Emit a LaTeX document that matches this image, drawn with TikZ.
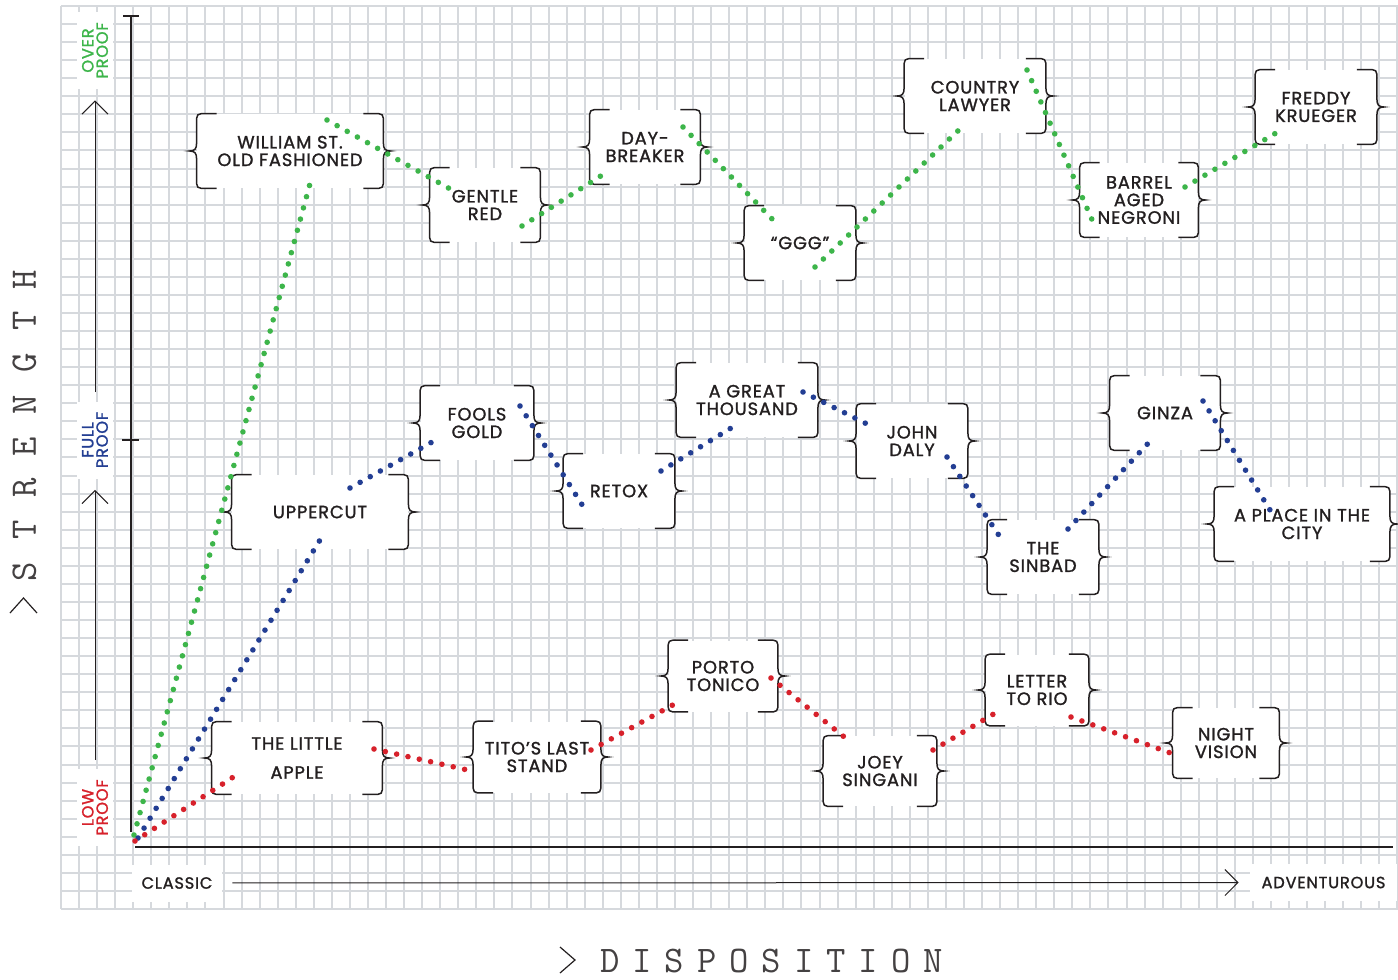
\documentclass[tikz,border=0pt]{standalone}
\usepackage{fontspec}
\setmainfont{Poppins}[LetterSpace=5,FakeBold=1.4]
\usetikzlibrary{arrows.meta}
\definecolor{ink}{HTML}{231F20}
\definecolor{gridgray}{HTML}{D6D9DD}
\definecolor{overgreen}{HTML}{3DB54A}
\definecolor{fullblue}{HTML}{233E93}
\definecolor{lowred}{HTML}{D7212B}
\newcommand\wgap{\hspace{11.2pt}}
\newcommand\ngap{\hspace{6.5pt}}
\newcommand\cocktailbraces[1]{%
\draw[brace] ([xshift=10pt]#1.north west) -- ([xshift=5pt]#1.north west) .. controls (#1.north west) .. ([yshift=-5pt]#1.north west) -- ([yshift=4pt]#1.west) .. controls ([yshift=1pt]#1.west) and ([xshift=-1pt]#1.west) .. ([xshift=-3.5pt]#1.west) .. controls ([xshift=-1pt]#1.west) and ([yshift=-1pt]#1.west) .. ([yshift=-4pt]#1.west) -- ([yshift=5pt]#1.south west) .. controls (#1.south west) .. ([xshift=5pt]#1.south west) -- ([xshift=10pt]#1.south west);
\draw[brace] ([xshift=-10pt]#1.north east) -- ([xshift=-5pt]#1.north east) .. controls (#1.north east) .. ([yshift=-5pt]#1.north east) -- ([yshift=4pt]#1.east) .. controls ([yshift=1pt]#1.east) and ([xshift=1pt]#1.east) .. ([xshift=3.5pt]#1.east) .. controls ([xshift=1pt]#1.east) and ([yshift=-1pt]#1.east) .. ([yshift=-4pt]#1.east) -- ([yshift=5pt]#1.south east) .. controls (#1.south east) .. ([xshift=-5pt]#1.south east) -- ([xshift=-10pt]#1.south east);}

\begin{document}
\begin{tikzpicture}[x=0.5pt,y=-0.5pt,
gridline/.style={draw=gridgray,line width=1pt},
mainaxis/.style={draw=ink,line width=1.1pt},
axarrow/.style={draw=ink,line width=0.5pt,-{Straight Barb[length=6.5pt,width=13pt]},shorten <=4.5pt,shorten >=5.5pt},
brace/.style={draw=ink,line width=0.75pt},
cocktail/.style={fill=white,inner sep=0pt,minimum height=37pt,align=center,text=ink,font=\fontsize{8.9}{8.8}\selectfont},
prooflabel/.style={fill=white,rotate=90,inner sep=0pt,minimum width=38.5pt,minimum height=18pt,align=center,font=\fontsize{8.1}{7.2}\selectfont},
endlabel/.style={fill=white,inner sep=0pt,minimum height=18.5pt,text=ink,font=\fontsize{8.1}{8.8}\selectfont},
axisword/.style={inner sep=0pt,text=ink!85,font=\ttfamily\fontsize{18.8}{18.8}\selectfont},
overdots/.style={draw=overgreen,line width=2.8pt,line cap=round,dash pattern=on 0pt off 5.8pt},
fulldots/.style={overdots,draw=fullblue},
lowdots/.style={overdots,draw=lowred}]
\useasboundingbox (0,0) rectangle (1398,980);
\foreach \i in {0,...,74} \draw[gridline] ({round(61+18.06*\i)},6) -- ({round(61+18.06*\i)},909);
\foreach \j in {0,...,50} \draw[gridline] (61,{round(6+18.06*\j)}) -- (1398,{round(6+18.06*\j)});

\node[prooflabel,text=overgreen] (over) at (95,50.5) {OVER\\PROOF};
\node[prooflabel,text=fullblue] (full) at (95,440) {FULL\\PROOF};
\node[prooflabel,text=lowred] (low) at (95,807.5) {LOW\\PROOF};
\node[endlabel,minimum width=45pt] (classic) at (177,883) {CLASSIC};
\node[endlabel,minimum width=73.5pt] (advent) at (1323.5,882.5) {ADVENTUROUS};
\draw[axarrow] (low) -- (full);
\draw[axarrow] (full) -- (over);
\draw[axarrow,shorten <=5pt] (classic) -- (advent);

\draw[mainaxis] (131,16) -- (131,832);
\draw[mainaxis] (135,847) -- (1393,847);
\draw[mainaxis] (123,16) -- (139,16);
\draw[mainaxis] (122,440) -- (139,440);
\coordinate (origin) at (135,838);

\node[axisword,rotate=90] (strength) at (24.5,425.5) {S\wgap T\wgap R\wgap E\wgap N\wgap G\wgap T\wgap H};
\node[axisword] (disposition) at (771.5,961) {D\ngap I\ngap S\ngap P\ngap O\ngap S\ngap I\ngap T\ngap I\ngap O\ngap N};
\draw[draw=ink,line width=0.6pt] (10,613) -- (23.5,598) -- (37,613);
\draw[draw=ink,line width=0.6pt] (560,947) -- (575,960) -- (560,973);

\node[cocktail,minimum width=93pt] (wsof) at (290,151) {WILLIAM ST.\\OLD FASHIONED};
\node[cocktail,minimum width=55pt] (gred) at (485,205) {GENTLE\\RED};
\node[cocktail,minimum width=55pt] (dayb) at (645,147) {DAY-\\BREAKER};
\node[cocktail,minimum width=55.5pt] (ggg) at (800,243) {“GGG”};
\node[cocktail,minimum width=70.5pt] (cola) at (975,96) {COUNTRY\\LAWYER};
\node[cocktail,minimum width=59pt] (barr) at (1139,200) {BARREL\\AGED\\NEGRONI};
\node[cocktail,minimum width=60.5pt] (fred) at (1316,107) {FREDDY\\KRUEGER};

\node[cocktail,minimum width=88pt] (upcu) at (320,512) {UPPERCUT};
\node[cocktail,minimum width=56.5pt] (fool) at (477,423) {FOOLS\\GOLD};
\node[cocktail,minimum width=55.5pt] (retx) at (619,491) {RETOX};
\node[cocktail,minimum width=70.5pt] (agth) at (747,400) {A GREAT\\THOUSAND};
\node[cocktail,minimum width=55.5pt] (jodl) at (912,441) {JOHN\\DALY};
\node[cocktail,minimum width=55.5pt] (sinb) at (1043,557) {THE\\SINBAD};
\node[cocktail,minimum width=55pt] (ginz) at (1165,413) {GINZA};
\node[cocktail,minimum width=87.5pt] (plac) at (1302,524) {A PLACE IN THE\\CITY};

\node[cocktail,minimum width=85pt,minimum height=36pt] (lapp) at (297,758) {THE LITTLE\\[5.7pt]APPLE};
\node[cocktail,minimum width=63.5pt,minimum height=35.5pt] (tito) at (537,757) {TITO’S LAST\\STAND};
\node[cocktail,minimum width=54.5pt,minimum height=35.5pt] (port) at (723,676) {PORTO\\TONICO};
\node[cocktail,minimum width=56.5pt,minimum height=35pt] (joey) at (880,771) {JOEY\\SINGANI};
\node[cocktail,minimum width=51.5pt,minimum height=35.5pt] (lett) at (1037,690) {LETTER\\TO RIO};
\node[cocktail,minimum width=53pt,minimum height=35pt] (nigh) at (1226,743) {NIGHT\\VISION};

\foreach \n in {wsof,gred,dayb,ggg,cola,barr,fred,upcu,fool,retx,agth,jodl,sinb,ginz,plac,lapp,tito,port,joey,lett,nigh} {\cocktailbraces{\n}}

\draw[overdots] ([shift={(-1,-3)}]origin) -- ([shift={(21,29)}]wsof.center);
\draw[overdots] ([shift={(37,-31)}]wsof.center) -- ([shift={(-33,-15)}]gred.center);
\draw[overdots] ([shift={(37,21)}]gred.center) -- ([shift={(-38,25)}]dayb.center);
\draw[overdots] ([shift={(38,-20)}]dayb.center) -- ([shift={(-25,-21)}]ggg.center);
\draw[overdots] ([shift={(15,24)}]ggg.center) -- ([shift={(-13,31)}]cola.center);
\draw[overdots] ([shift={(52,-26)}]cola.center) -- ([shift={(-46,22)}]barr.center);
\draw[overdots] ([shift={(46,-13)}]barr.center) -- ([shift={(-35,23)}]fred.center);

\draw[fulldots] ([shift={(3,0)}]origin) -- ([shift={(0,28)}]upcu.center);
\draw[fulldots] ([shift={(30,-24)}]upcu.center) -- ([shift={(-36,14)}]fool.center);
\draw[fulldots] ([shift={(43,-17)}]fool.center) -- ([shift={(-33,20)}]retx.center);
\draw[fulldots] ([shift={(42,-20)}]retx.center) -- ([shift={(-11,25)}]agth.center);
\draw[fulldots] ([shift={(56,-8)}]agth.center) -- ([shift={(-37,-13)}]jodl.center);
\draw[fulldots] ([shift={(35,16)}]jodl.center) -- ([shift={(-41,-17)}]sinb.center);
\draw[fulldots] ([shift={(25,-28)}]sinb.center) -- ([shift={(-11,24)}]ginz.center);
\draw[fulldots] ([shift={(38,-12)}]ginz.center) -- ([shift={(-32,-14)}]plac.center);

\draw[lowdots] ([shift={(0,3)}]origin) -- ([shift={(-56,14)}]lapp.center);
\draw[lowdots] ([shift={(77,-9)}]lapp.center) -- ([shift={(-65,14)}]tito.center);
\draw[lowdots] ([shift={(54,-7)}]tito.center) -- ([shift={(-43,25)}]port.center);
\draw[lowdots] ([shift={(48,2)}]port.center) -- ([shift={(-32,-31)}]joey.center);
\draw[lowdots] ([shift={(53,-21)}]joey.center) -- ([shift={(-35,19)}]lett.center);
\draw[lowdots] ([shift={(34,27)}]lett.center) -- ([shift={(-50,12)}]nigh.center);
\end{tikzpicture}
\end{document}
